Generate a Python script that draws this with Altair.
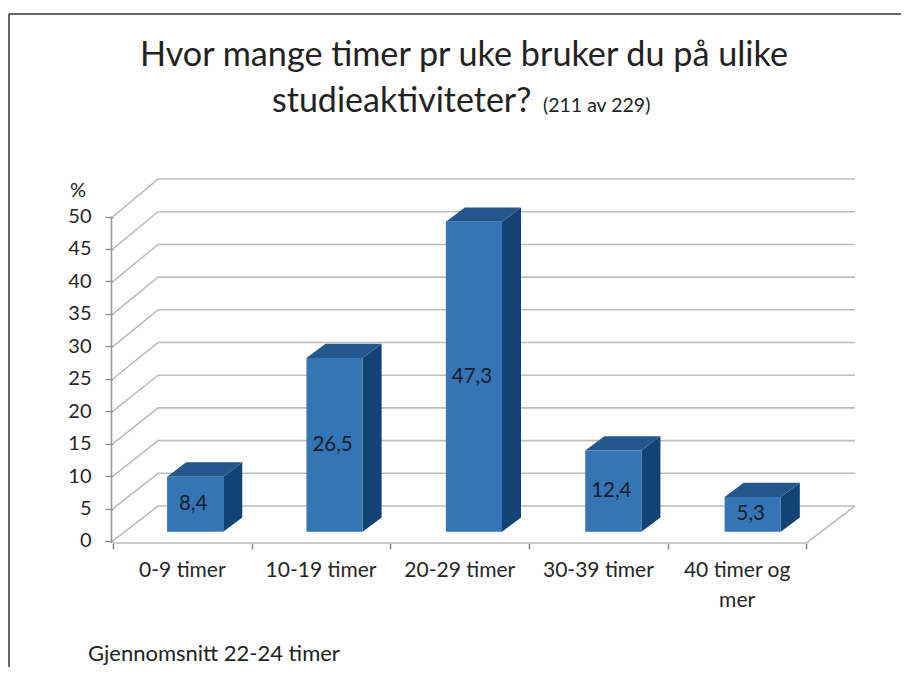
import altair as alt
import pandas as pd

# ---- values
categories = ["0-9 timer", "10-19 timer", "20-29 timer", "30-39 timer", "40 timer og\nmer"]
percent = [8.4, 26.5, 47.3, 12.4, 5.3]
percent_labels = ["8,4", "26,5", "47,3", "12,4", "5,3"]
y_ticks = [0, 5, 10, 15, 20, 25, 30, 35, 40, 45, 50]
x_ticks = [0, 1, 2, 3, 4, 5]

# ---- geometry of the 3-D box, in axis units
FONT = "Lato"
WALL_DX, WALL_DY, WALL_K = 0.325, 5.39, 1.0077
X_END = 5.35
BAR_STEP, BAR_LEFT, BAR_W, BAR_BASE, BAR_K, BAR_DX, BAR_DY = 1.005, 0.39, 0.405, 1.43, 1.01, 0.137, 2.2
X0_PX, Y0_PX = 113, 179
W, H = 742, 364

xs = alt.Scale(domain=[0, X_END], nice=False, zero=False)
ys = alt.Scale(domain=[-0.31, 55.78], nice=False, zero=False)

y_axis = alt.Axis(
    values=y_ticks, domain=False, grid=False, tickSize=8, tickWidth=1.4, tickColor="#8c8c8c",
    labelFont=FONT, labelFontSize=20, labelColor="#262626", labelPadding=14,
    labelBaseline="middle", title=None,
)
x_axis = alt.Axis(
    values=x_ticks, domain=False, grid=False, labels=False, tickSize=6, tickWidth=1.6,
    tickColor="#8c8c8c", title=None,
)


def X(field="x"):
    return alt.X(f"{field}:Q", scale=xs, axis=x_axis, title=None)


def Y(field="y"):
    return alt.Y(f"{field}:Q", scale=ys, axis=y_axis, title=None)


# grid lines: diagonal on the side wall, then along the back wall
grid_rows = []
for v in y_ticks:
    back = WALL_DY + WALL_K * v
    grid_rows += [
        {"g": v, "o": 0, "x": 0, "y": v},
        {"g": v, "o": 1, "x": WALL_DX, "y": back},
        {"g": v, "o": 2, "x": X_END, "y": back},
    ]
grid = alt.Chart(pd.DataFrame(grid_rows)).mark_line(color="#bdbdbd", strokeWidth=1.6).encode(
    x=X(), y=Y(), detail="g:N", order="o:Q"
)

# floor: front edge and right edge
floor_rows = [
    {"o": 0, "x": 0, "y": -0.31},
    {"o": 1, "x": 5, "y": -0.31},
    {"o": 2, "x": X_END, "y": WALL_DY},
]
floor = alt.Chart(pd.DataFrame(floor_rows)).mark_line(color="#bdbdbd", strokeWidth=1.6).encode(
    x=X(), y=Y(), order="o:Q"
)

# value axis line
axis_line = alt.Chart(pd.DataFrame({"y": [-0.31], "y2": [50]})).mark_rule(
    color="#9a9a9a", strokeWidth=1.6
).encode(x=alt.value(-1.5), y=Y("y"), y2="y2:Q")

# bars
front_rows, side_rows, top_rows = [], [], []
for i, (c, v) in enumerate(zip(categories, percent)):
    l = i * BAR_STEP + BAR_LEFT
    r = l + BAR_W
    t = BAR_BASE + BAR_K * v
    front_rows.append({"c": c, "x": l, "x2": r, "y": BAR_BASE, "y2": t})
    side_rows += [
        {"c": c, "x": r, "y": t, "y2": BAR_BASE},
        {"c": c, "x": r + BAR_DX, "y": t + BAR_DY, "y2": BAR_BASE + BAR_DY},
    ]
    top_rows += [
        {"c": c, "y": t, "x": l, "x2": r},
        {"c": c, "y": t + BAR_DY, "x": l + BAR_DX, "x2": r + BAR_DX},
    ]

side = alt.Chart(pd.DataFrame(side_rows)).mark_area(color="#124372", opacity=1).encode(
    x=X(), y=Y(), y2="y2:Q", detail="c:N"
)
top = alt.Chart(pd.DataFrame(top_rows)).mark_area(color="#24578B", opacity=1, orient="horizontal").encode(
    y=Y(), x=X(), x2="x2:Q", detail="c:N"
)
front = alt.Chart(pd.DataFrame(front_rows)).mark_rect(color="#3575B5", opacity=1).encode(
    x=X(), x2="x2:Q", y=Y(), y2="y2:Q"
)

# value labels
val_df = pd.DataFrame(
    {
        "t": percent_labels,
        "x": [i * BAR_STEP + BAR_LEFT + BAR_W / 2 for i in range(5)],
        "y": [BAR_BASE + BAR_K * v / 2 for v in percent],
    }
)
val_text = alt.Chart(val_df).mark_text(
    font=FONT, fontSize=20.5, color="#14202c", align="center", baseline="middle", dx=-2
).encode(x=X(), y=Y(), text="t:N")

# category labels
cat_df = pd.DataFrame({"t": categories, "x": [i + 0.5 for i in range(5)]})
cat_text = alt.Chart(cat_df).mark_text(
    font=FONT, fontSize=21, color="#262626", align="center", baseline="alphabetic", lineBreak="\n",
    lineHeight=30,
).encode(x=X(), y=alt.value(577 - Y0_PX), text="t:N")


def label(text, px, py, size, align="left", color="#222222"):
    return alt.Chart(pd.DataFrame({"t": [text]})).mark_text(
        font=FONT, fontSize=size, color=color, align=align, baseline="alphabetic"
    ).encode(x=alt.value(px - X0_PX), y=alt.value(py - Y0_PX), text="t:N")


texts = [
    label("Hvor mange timer pr uke bruker du på ulike", 464, 66, 34.2, "center"),
    label("studieaktiviteter?", 272, 112, 34),
    label("(211 av 229)", 543, 112, 19.5),
    label("%", 78, 197, 20, "center"),
    label("Gjennomsnitt 22-24 timer", 88, 661, 22),
]

# picture frame, left and top
frame_left = alt.Chart(pd.DataFrame({"a": [0]})).mark_rule(color="#333333", strokeWidth=1.5).encode(
    x=alt.value(9 - X0_PX), y=alt.value(14 - Y0_PX), y2=alt.value(675 - Y0_PX)
)
frame_top = alt.Chart(pd.DataFrame({"a": [0]})).mark_rule(color="#333333", strokeWidth=1.5).encode(
    y=alt.value(14 - Y0_PX), x=alt.value(9 - X0_PX), x2=alt.value(909 - X0_PX)
)

chart = alt.layer(
    frame_left, frame_top, grid, floor, axis_line, side, top, front, val_text, cat_text, *texts
).properties(
    width=W,
    height=H,
    autosize=alt.AutoSizeParams(type="none"),
    padding={"left": X0_PX - 8, "top": Y0_PX - 8, "right": 46, "bottom": 124},
    background="white",
).configure_view(stroke=None)

chart.save("out.html", embed_options={"renderer": "svg", "actions": False})
